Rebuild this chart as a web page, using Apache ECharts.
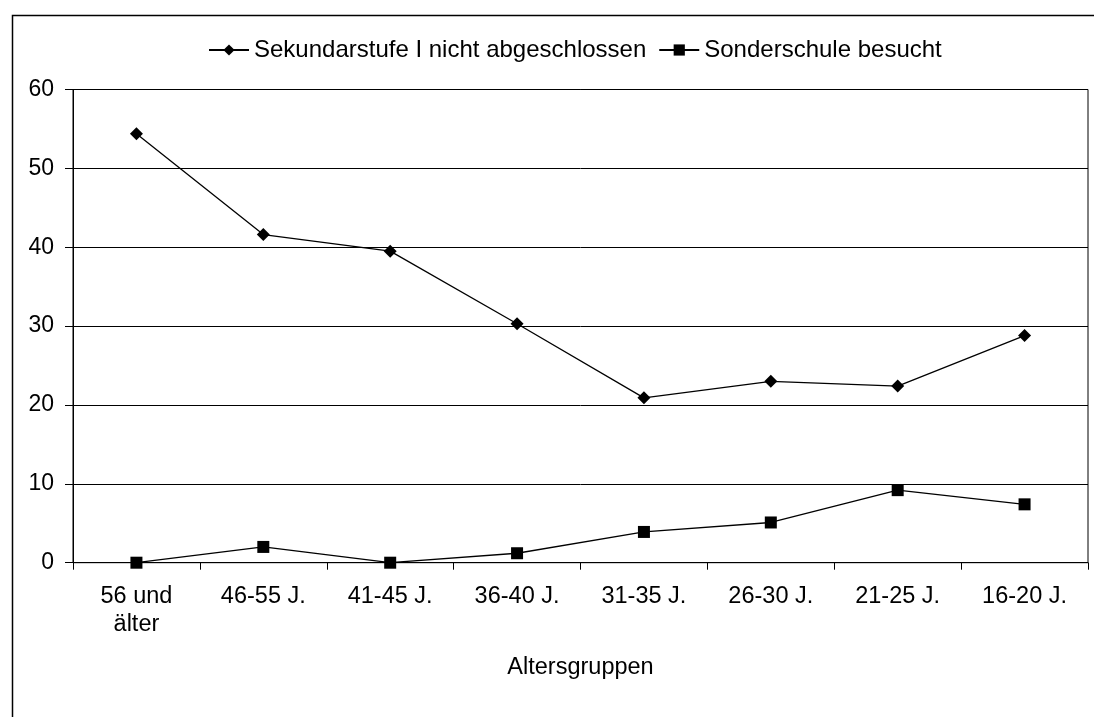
<!DOCTYPE html>
<html>
<head>
<meta charset="utf-8">
<script src="https://cdn.jsdelivr.net/npm/echarts@6/dist/echarts.min.js"></script>
<style>
html,body{margin:0;padding:0;background:#fff;}
#chart{width:1094px;height:717px;}
</style>
</head>
<body>
<div id="chart"></div>
<script>
const categories = ['56 und\nälter', '46-55 J.', '41-45 J.', '36-40 J.', '31-35 J.', '26-30 J.', '21-25 J.', '16-20 J.'];
const seriesNames = ['Sekundarstufe I nicht abgeschlossen', 'Sonderschule besucht'];
const sekundarstufe = [54.4, 41.6, 39.5, 30.3, 20.9, 23.0, 22.4, 28.8];
const sonderschule = [0.0, 2.0, 0.0, 1.2, 3.9, 5.1, 9.2, 7.4];
const yTicks = [0, 10, 20, 30, 40, 50, 60];
const xAxisName = 'Altersgruppen';

const FONT = '"Liberation Sans", Arial, sans-serif';
const chart = echarts.init(document.getElementById('chart'), null, {renderer: 'canvas'});
chart.setOption({
  animation: false,
  backgroundColor: '#ffffff',
  graphic: [{
    type: 'rect',
    left: 10, top: 13,
    shape: {x: 10.5, y: 13.5, width: 1200, height: 800},
    style: {fill: 'none', stroke: '#000', lineWidth: 1.5},
    z: 100, silent: true
  }],
  legend: {
    data: seriesNames,
    left: 208, top: 38, padding: 0,
    itemWidth: 40, itemHeight: 14, itemGap: 12,
    textStyle: {fontFamily: FONT, fontSize: 24, color: '#000'}
  },
  grid: {
    left: 73, right: 6, top: 89.5, bottom: 154.3,
    show: true, borderColor: '#000', borderWidth: 1, backgroundColor: 'transparent',
    containLabel: false
  },
  xAxis: {
    type: 'category',
    data: categories,
    boundaryGap: true,
    name: xAxisName,
    nameLocation: 'middle',
    nameGap: 93,
    nameTextStyle: {fontFamily: FONT, fontSize: 23.5, color: '#000'},
    axisLine: {lineStyle: {color: '#000', width: 1}},
    axisTick: {show: true, length: 7, inside: false, alignWithLabel: false, lineStyle: {color: '#000'}},
    axisLabel: {fontFamily: FONT, fontSize: 23.5, color: '#000', margin: 20, lineHeight: 28, interval: 0},
    splitLine: {show: false}
  },
  yAxis: {
    type: 'value',
    min: yTicks[0], max: yTicks[yTicks.length - 1], interval: 10,
    axisLine: {show: true, lineStyle: {color: '#000', width: 1}},
    axisTick: {show: true, length: 8, lineStyle: {color: '#000'}},
    axisLabel: {fontFamily: FONT, fontSize: 23, color: '#000', margin: 19},
    splitLine: {show: true, lineStyle: {color: '#000', width: 1}}
  },
  series: [
    {
      name: seriesNames[0], type: 'line', data: sekundarstufe,
      symbol: 'diamond', symbolSize: 13, clip: false,
      lineStyle: {color: '#000', width: 1.3},
      itemStyle: {color: '#000'}
    },
    {
      name: seriesNames[1], type: 'line', data: sonderschule,
      symbol: 'rect', symbolSize: 12, clip: false,
      lineStyle: {color: '#000', width: 1.3},
      itemStyle: {color: '#000'}
    }
  ]
});
</script>
</body>
</html>
